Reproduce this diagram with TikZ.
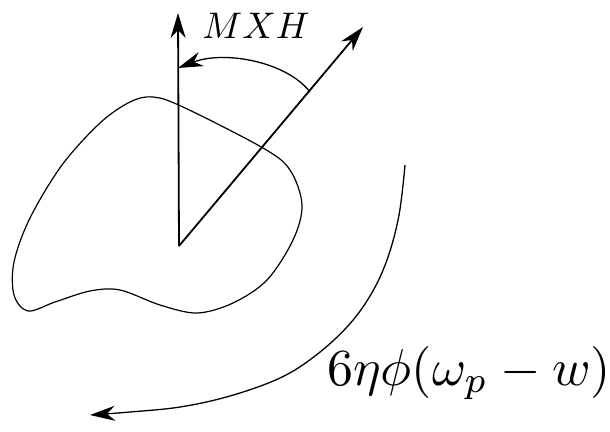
\documentclass[tikz,border=0pt]{standalone}
\usetikzlibrary{arrows.meta}
\begin{document}
\begin{tikzpicture}[x=1pt,y=-1pt,
  thinline/.style={line width=1.2pt},
  arrline/.style={line width=1.8pt,-{Stealth[length=25pt,width=15pt,inset=8pt]}},
  bigarr/.style={line width=1.3pt,-{Stealth[length=25pt,width=15pt,inset=8pt]}}]
\useasboundingbox (0,0) rectangle (610,431);
\coordinate (o) at (179,246);
\coordinate (vt) at (178,13);
\coordinate (dt) at (363,27);
\coordinate (as) at (310,92);
\coordinate (ae) at (178,68);
\draw[thinline] plot[smooth cycle, tension=0.55] coordinates {
 (153,97) (183,107) (263,148) (290,170) (302,205) (293,240) (267,280) (233,303) (197,313) (160,305) (120,290) (90,291) (55,302) (28,311) (14,295) (14,262) (30,218) (62,165) (100,123) (130,102)};
\draw[arrline] (o) -- (vt);
\draw[arrline] (o) -- (dt);
\draw[bigarr] (as) .. controls (287,62) and (225,50) .. (ae);
\draw[bigarr] plot[smooth, tension=0.6] coordinates {(405,165) (399,215) (387,260) (370,296) (347,327) (315,356) (280,378) (230,396) (180,407) (130,412) (90,415)};
\node[scale=3.7] (mxh) at (256,26) {$MXH$};
\node[scale=5.2,anchor=base] (eq) at (469,385) {$6\eta\phi(\omega_p-w)$};
\end{tikzpicture}
\end{document}
